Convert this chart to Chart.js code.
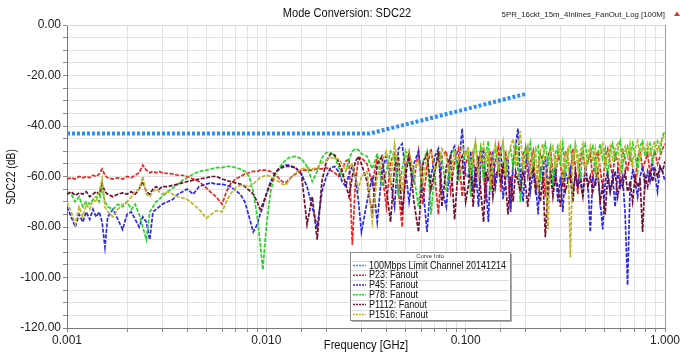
<!DOCTYPE html>
<html><head><meta charset="utf-8">
<script src="https://cdn.jsdelivr.net/npm/chart.js@4/dist/chart.umd.min.js"></script>
<style>html,body{margin:0;padding:0;background:#fff;}#wrap{width:695px;height:358px;position:relative;}</style>
</head><body><div id="wrap"><canvas id="c" width="695" height="358"></canvas></div>
<script>
// ---------- DATA ----------
const freqGHz = [
 0.001,0.00105,0.0011,0.00115,0.0012,0.00125,0.0013,0.00135,0.0014,0.00145,0.0015,0.00155,0.0016,0.0017,0.0018,0.0019,0.002,0.0021,0.0022,0.0023,0.0024,0.0025,0.0026,0.0027,0.0028,0.0029,0.003,
 0.0032,0.0034,0.0036,0.0038,0.004,0.0043,0.0046,0.005,0.0053,0.0056,0.006,0.0063,0.0066,0.007,0.0074,0.0078,0.0082,0.0086,0.009,0.0093,0.0096,0.01,
 0.0105,0.011,0.0115,0.012,0.0125,0.013,0.014,0.015,0.016,0.017,0.018,0.019,0.02,0.021,0.022,0.023,0.024,0.025,0.026,0.027,0.028,0.029,0.03,
 0.032,0.034,0.036,0.038,0.04,0.042,0.044,0.046,0.048,0.05,0.052,0.055,0.058,0.061,0.064,0.067,0.07,0.073,0.076,0.08,0.084,0.088,0.092,0.096,0.1,
 0.103,0.106,0.109,0.112,0.116,0.119,0.123,0.126,0.13,0.133,
 0.137,0.141,0.146,0.15,0.154,0.159,0.163,0.168,0.173,0.178,
 0.183,0.188,0.194,0.2,0.205,0.211,0.218,0.224,0.231,0.237,
 0.244,0.251,0.259,0.266,0.274,0.282,0.29,0.299,0.307,0.316,
 0.326,0.335,0.345,0.355,0.365,0.376,0.387,0.398,0.41,0.422,
 0.434,0.447,0.46,0.473,0.487,0.501,0.516,0.531,0.546,0.562,
 0.579,0.596,0.613,0.631,0.649,0.668,0.688,0.708,0.729,0.75,
 0.772,0.794,0.818,0.841,0.866,0.891,0.917,0.944,0.972,1.0
];
const limitFreq = [0.001, 0.033, 0.2];
const limitDb = [-43, -43, -27.3];

const p23 = [
 -61,-60.5,-61,-60,-60.5,-60,-60.5,-59.5,-60,-59,-57,-59.5,-60.5,-61,-60.5,-61,-60,-60.5,-59.5,-58.5,-55.5,-57.5,-58.5,-58,-58.5,-58,-58.5,
 -58.8,-59,-59.5,-59.5,-60,-61,-62,-64.5,-66.5,-68,-71,-66,-63,-61,-60,-59,-58.5,-58,-58,-57.5,-57.5,-57.5,
 -58,-59,-60.5,-62,-62.5,-61,-59,-57.5,-57.5,-57.5,-57,-57,-56.5,-57.5,-58.5,-60,-57,-54,-53,-87,-62,-53,-52.5,
 -55,-63,-52,-58,-72,-54,-51,-66,-80,-55,-52,-62,-50,-71,-56,-49,-60,-75,-52,-50,-66,-54,-49,-68,-55,
 -52,-60,-50,-64,-55,-49,-58,-70,-52,-50,
 -62,-54,-48,-66,-56,-51,-59,-73,-53,-50,
 -57,-66,-51,-49,-60,-55,-50,-63,-57,-51,
 -54,-68,-52,-49,-58,-62,-51,-55,-64,-50,
 -53,-60,-49,-56,-67,-52,-50,-58,-54,-51,
 -61,-53,-50,-57,-65,-52,-49,-55,-60,-51,
 -54,-62,-50,-53,-58,-51,-56,-63,-52,-50,
 -57,-54,-51,-59,-53,-50,-55,-52,-49,-47
];
const p45 = [
 -72,-76,-80,-75,-78,-74,-77,-73,-76,-74,-78,-88,-76,-73,-77,-81,-75,-74,-77,-80,-76,-78,-85,-74,-73,-72,-71,
 -70,-69,-67,-66,-65,-67,-64,-63,-62.5,-63,-63,-63.5,-64,-65.5,-67,-70,-76,-82,-79,-75,-72,-67,
 -62,-59,-57.5,-56,-55.5,-55.5,-56.5,-59,-64,-72,-80,-66,-60,-56.5,-56,-58,-62,-64,-59,-56,-60,-70,-82,
 -70,-60,-78,-58,-52,-62,-72,-49,-47,-58,-70,-55,-50,-64,-82,-60,-52,-49,-65,-72,-51,-48,-58,-41,-60,
 -60,-50,-66,-56,-72,-54,-49,-62,-78,-58,
 -50,-64,-56,-48,-69,-60,-52,-74,-56,-48,
 -41,-60,-70,-55,-50,-66,-58,-62,-75,-56,
 -60,-52,-68,-58,-64,-56,-70,-60,-74,-58,
 -62,-57,-66,-60,-64,-58,-68,-56,-62,-82,
 -60,-64,-58,-70,-81,-62,-58,-66,-60,-72,
 -58,-64,-60,-75,-103,-64,-58,-62,-68,-60,
 -56,-64,-58,-62,-55,-60,-66,-56,-58,-62
];
const p78 = [
 -66,-67,-70,-68,-72,-70,-71,-69,-68,-70,-64,-70,-72,-73,-71,-72,-70,-73,-71,-75,-80,-85,-74,-72,-70,-69,-68,
 -66,-64.5,-63,-61.5,-60.5,-59,-58,-57.5,-57,-56.5,-56.5,-56,-56,-56.5,-57,-58,-60,-66,-76,-86,-97,-80,
 -66,-60,-57,-55,-53.5,-52.5,-52,-53,-56,-62,-58,-52.5,-50.5,-50.5,-52,-56,-60,-58,-53,-50,-49,-49.5,-51,
 -52,-57,-51,-64,-58,-50,-52,-68,-57,-50,-55,-60,-72,-54,-50,-75,-58,-51,-53,-66,-52,-49,-62,-56,-50,
 -50,-68,-52,-47,-56,-49,-62,-51,-46,-66,
 -53,-48,-58,-50,-47,-60,-52,-49,-56,-47,
 -51,-70,-55,-48,-53,-47,-58,-50,-48,-62,
 -52,-47,-55,-49,-64,-51,-48,-54,-47,-59,
 -50,-48,-56,-47,-52,-62,-49,-47,-55,-50,
 -48,-58,-51,-47,-53,-49,-60,-50,-47,-54,
 -49,-46,-56,-50,-48,-53,-47,-51,-58,-48,
 -46,-52,-49,-47,-55,-48,-46,-50,-44,-42
];
const p1112 = [
 -67,-66,-67.5,-66.5,-67,-66,-68,-67,-66,-67,-63,-66,-67,-68,-67,-66.5,-67,-66,-67,-65,-62,-66,-67,-65,-64,-65,-64,
 -64,-63.5,-63,-62.5,-62,-61.5,-61,-60.5,-60,-60,-61,-61.5,-62,-62.5,-63,-64,-65.5,-67,-70,-73,-71,-67,
 -63,-59,-57,-56.5,-56,-56,-56.5,-59,-79,-68,-85,-62,-54,-51,-51.5,-54,-58,-63,-68,-60,-54,-52,-55,
 -62,-75,-55,-52,-65,-78,-56,-52,-75,-60,-51,-70,-82,-55,-51,-65,-58,-50,-72,-56,-52,-77,-55,-52,-70,
 -64,-56,-72,-60,-52,-66,-78,-58,-62,-55,
 -68,-60,-57,-62,-56,-64,-75,-60,-70,-58,
 -62,-66,-58,-64,-72,-60,-57,-66,-62,-70,
 -60,-84,-64,-58,-68,-60,-64,-72,-58,-66,
 -62,-60,-70,-58,-64,-62,-68,-58,-64,-60,
 -66,-62,-58,-70,-64,-75,-60,-66,-62,-58,
 -68,-62,-64,-58,-66,-62,-70,-60,-64,-62,
 -82,-60,-64,-58,-62,-57,-60,-56,-58,-54
];
const p1516 = [
 -70,-74,-79,-72,-76,-71,-73,-69,-70,-66,-61,-72,-74,-76,-73,-71,-70,-68,-66,-65,-60,-67,-68,-66,-65,-66,-67,
 -66,-67,-68,-68.5,-69,-71,-73,-76.5,-75,-73.5,-74,-70,-67,-64.5,-63.5,-63.5,-64,-63,-61.5,-60.5,-60,-59.5,
 -60,-61,-62,-63,-63.5,-61.5,-58.5,-57,-56.5,-57,-56.5,-54.5,-53.5,-52.5,-53,-53,-55,-57.5,-56,-55,-60,-65,-60,
 -58,-78,-60,-54,-50,-62,-47,-56,-66,-52,-50,-58,-54,-62,-52,-50,-57,-56,-49,-53,-60,-50,-54,-48,-52,
 -48,-58,-50,-46,-62,-51,-47,-55,-49,-64,
 -52,-47,-57,-50,-46,-60,-53,-48,-45,-56,
 -49,-42,-58,-51,-48,-60,-52,-49,-66,-50,
 -47,-55,-81,-50,-48,-57,-51,-47,-62,-52,
 -49,-92,-53,-48,-56,-50,-47,-58,-51,-48,
 -54,-49,-62,-50,-47,-56,-52,-48,-53,-49,
 -47,-58,-50,-48,-52,-47,-55,-49,-46,-53,
 -48,-50,-47,-52,-48,-46,-50,-47,-45,-43
];
const seriesNames = ["100Mbps Limit Channel 20141214","P23: Fanout","P45: Fanout","P78: Fanout","P1112: Fanout","P1516: Fanout"];
const xMajorTicks = [0.001, 0.01, 0.1, 1];
const yLabelStep = 20;

// ---------- STYLE ----------
const SANS = "'Liberation Sans',Arial,sans-serif";
const colors = ['#2f8ff0','#ee2222','#2a2ae6','#28d428','#6e1030','#bdb62a'];

const toPts = (xs, ys) => xs.map((x,i)=>({x:x, y:ys[i]}));
const mk = (i, ys, order) => ({
  label: seriesNames[i], data: toPts(freqGHz, ys), borderColor: colors[i], backgroundColor: colors[i],
  showLine: true, pointRadius: 0, borderWidth: 1.7, borderDash: [4,1.5], tension: 0, order: order
});

function txt(ctx, s, x, y, sx, align) {
  ctx.save(); ctx.translate(x, y); ctx.scale(sx, 1); ctx.textAlign = align; ctx.fillText(s, 0, 0); ctx.restore();
}

const decor = {
  id: 'decor',
  afterDraw(chart) {
    const ctx = chart.ctx, a = chart.chartArea;
    ctx.save();
    ctx.strokeStyle = '#9a9a9a'; ctx.lineWidth = 1;
    ctx.beginPath(); ctx.moveTo(a.right+0.5, a.top); ctx.lineTo(a.right+0.5, a.bottom); ctx.stroke();
    ctx.strokeStyle = '#d8d8d8';
    ctx.beginPath(); ctx.moveTo(a.left, a.top+0.5); ctx.lineTo(a.right, a.top+0.5); ctx.stroke();
    ctx.fillStyle = '#111'; ctx.textBaseline = 'middle';
    ctx.font = '13px ' + SANS; txt(ctx, 'Mode Conversion: SDC22', 347, 13, 0.85, 'center');
    ctx.font = '12px ' + SANS; txt(ctx, 'Frequency [GHz]', 366, 346, 0.93, 'center');
    ctx.save(); ctx.translate(12, 177); ctx.rotate(-Math.PI/2); txt(ctx, 'SDC22 (dB)', 0, 0, 0.86, 'center'); ctx.restore();
    ctx.font = '8px ' + SANS; ctx.fillStyle = '#222';
    txt(ctx, '5PR_16ckt_15m_4Inlines_FanOut_Log [100M]', 665, 15, 0.98, 'right');
    ctx.fillStyle = '#e03030';
    ctx.beginPath(); ctx.moveTo(677, 11.5); ctx.lineTo(680, 16); ctx.lineTo(674, 16); ctx.closePath(); ctx.fill();
    // legend box
    const bx = 350, by = 252, bw = 160, bh = 68;
    ctx.fillStyle = '#b0b0b0'; ctx.fillRect(bx+2, by+2, bw, bh);
    ctx.fillStyle = '#fff'; ctx.fillRect(bx, by, bw, bh);
    ctx.strokeStyle = '#8a8a8a'; ctx.strokeRect(bx+0.5, by+0.5, bw, bh);
    ctx.fillStyle = '#333'; ctx.font = '6px ' + SANS;
    txt(ctx, 'Curve Info', bx + bw/2, by + 4.5, 1, 'center');
    const rowH = 9.8, r0 = by + 8.5;
    ctx.strokeStyle = '#dddddd';
    for (let i = 0; i < seriesNames.length; i++) {
      const yy = Math.round(r0 + rowH*i) + 0.5;
      ctx.beginPath(); ctx.moveTo(bx+1, yy); ctx.lineTo(bx+bw-1, yy); ctx.stroke();
    }
    ctx.font = '10px ' + SANS; ctx.fillStyle = '#111';
    seriesNames.forEach((n, i) => {
      const cy = r0 + rowH*i + rowH/2;
      ctx.strokeStyle = colors[i]; ctx.lineWidth = 1.5; ctx.setLineDash([2,1]);
      ctx.beginPath(); ctx.moveTo(bx+3, cy); ctx.lineTo(bx+16, cy); ctx.stroke();
      ctx.setLineDash([]);
      txt(ctx, n, bx+19, cy+0.5, 0.9, 'left');
    });
    ctx.restore();
  }
};

new Chart(document.getElementById('c'), {
  type: 'scatter',
  data: { datasets: [
    { label: seriesNames[0], data: toPts(limitFreq, limitDb), borderColor: colors[0], backgroundColor: colors[0],
      showLine: true, pointRadius: 0, borderWidth: 4, borderDash: [3,2], borderCapStyle: 'butt', order: 0 },
    mk(1, p23, 5), mk(2, p45, 4), mk(3, p78, 3), mk(4, p1112, 2), mk(5, p1516, 1)
  ]},
  options: {
    responsive: false, animation: false, devicePixelRatio: 1,
    layout: { padding: { left: 0, right: 30, top: 25, bottom: 0 } },
    plugins: { legend: { display: false }, tooltip: { enabled: false }, title: { display: false } },
    scales: {
      x: {
        type: 'logarithmic', min: 0.001, max: 1, position: 'bottom',
        afterFit: s => { s.height = 30; },
        grid: { color: '#e2e2e2', tickLength: 4, tickColor: '#8a8a8a' },
        border: { color: '#7a7a7a' },
        ticks: { autoSkip: false, maxRotation: 0, padding: 1, color: '#222', font: { family: SANS, size: 12 },
          callback: v => xMajorTicks.some(t => Math.abs(t - v) / t < 1e-6) ? Number(v).toFixed(3) : '' }
      },
      y: {
        type: 'linear', min: -120, max: 0,
        afterFit: s => { s.width = 67; },
        grid: { color: '#e2e2e2', tickLength: 4, tickColor: '#8a8a8a' },
        border: { color: '#7a7a7a' },
        ticks: { stepSize: 5, autoSkip: false, padding: 2, color: '#222', font: { family: SANS, size: 12 },
          callback: v => (Math.round(v) % yLabelStep === 0) ? Number(v).toFixed(2) : '' }
      }
    }
  },
  plugins: [decor]
});
</script>
</body></html>
